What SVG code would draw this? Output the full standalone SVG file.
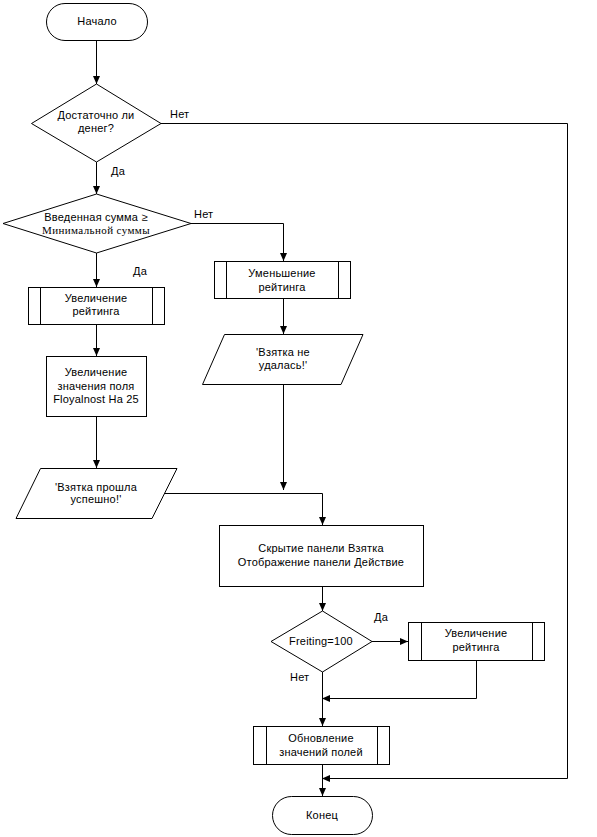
<svg xmlns="http://www.w3.org/2000/svg" width="597" height="837" viewBox="0 0 597 837">
<style>
.s{fill:#fff;stroke:#000;stroke-width:1}
.l{fill:none;stroke:#000;stroke-width:1}
text{font-family:"Liberation Sans",Arial,sans-serif;font-size:11px;fill:#000;text-anchor:middle;dominant-baseline:central;letter-spacing:0.2px}
.lb{text-anchor:start}
.sr{font-family:"Liberation Serif","Times New Roman",serif;letter-spacing:0.4px}
</style>
<defs>
<marker id="a" viewBox="0 0 8 8" refX="8" refY="4" markerWidth="8" markerHeight="8" markerUnits="userSpaceOnUse" orient="auto">
<path d="M0,0.5 L8,4 L0,7.5 Z" fill="#000"/>
</marker>
</defs>
<rect width="597" height="837" fill="#fff"/>
<g id="connectors">
<path class="l" d="M96.5,40 V84" marker-end="url(#a)"/>
<path class="l" d="M96.5,162 V194" marker-end="url(#a)"/>
<path class="l" d="M161,123.5 H567.5 V778.5 H322" marker-end="url(#a)"/>
<path class="l" d="M191,223.5 H283.5 V261" marker-end="url(#a)"/>
<path class="l" d="M96.5,253 V287" marker-end="url(#a)"/>
<path class="l" d="M96.5,324 V356" marker-end="url(#a)"/>
<path class="l" d="M96.5,416 V468" marker-end="url(#a)"/>
<path class="l" d="M283.5,299 V334" marker-end="url(#a)"/>
<path class="l" d="M283.5,384 V490" marker-end="url(#a)"/>
<path class="l" d="M165,493.5 H322.5 V525" marker-end="url(#a)"/>
<path class="l" d="M322.5,586 V611" marker-end="url(#a)"/>
<path class="l" d="M372,641.5 H408" marker-end="url(#a)"/>
<path class="l" d="M476.5,660 V698.5 H322" marker-end="url(#a)"/>
<path class="l" d="M322.5,671 V726" marker-end="url(#a)"/>
<path class="l" d="M322.5,765 V796" marker-end="url(#a)"/>
<text class="lb" x="170" y="114">Нет</text>
<text class="lb" x="111" y="171">Да</text>
<text class="lb" x="194" y="214">Нет</text>
<text class="lb" x="133" y="271">Да</text>
<text class="lb" x="374" y="617">Да</text>
<text class="lb" x="290" y="677">Нет</text>
</g>
<g id="start">
<rect class="s" x="46.5" y="3.5" width="101" height="37" rx="18.5"/>
<text x="97" y="21">Начало</text>
</g>
<g id="d1">
<path class="s" d="M96.5,84 L161,123.5 L96.5,162 L31.5,123.5 Z"/>
<text x="96" y="115">Достаточно ли</text>
<text x="96" y="128">денег?</text>
</g>
<g id="d2">
<path class="s" d="M96.5,194 L191,223.5 L96.5,253 L3,223.5 Z"/>
<text x="96" y="217">Введенная сумма ≥</text>
<text class="sr" x="96" y="230">Минимальной суммы</text>
</g>
<g id="p_dec">
<rect class="s" x="214.5" y="261.5" width="136" height="37"/>
<path class="l" d="M226.5,261.5 V298.5 M338.5,261.5 V298.5"/>
<text x="282" y="273">Уменьшение</text>
<text x="282" y="287">рейтинга</text>
</g>
<g id="io_fail">
<path class="s" d="M224.5,334.5 L363,334.5 L341,384.5 L202.5,384.5 Z"/>
<text x="283" y="352">'Взятка не</text>
<text x="283" y="365">удалась!'</text>
</g>
<g id="p_inc1">
<rect class="s" x="28.5" y="287.5" width="136" height="37"/>
<path class="l" d="M40.5,287.5 V324.5 M152.5,287.5 V324.5"/>
<text x="96" y="298">Увеличение</text>
<text x="96" y="311">рейтинга</text>
</g>
<g id="r_loyal">
<rect class="s" x="46.5" y="356.5" width="100" height="60"/>
<text x="96" y="372">Увеличение</text>
<text x="96" y="386">значения поля</text>
<text x="96" y="399">Floyalnost На 25</text>
</g>
<g id="io_ok">
<path class="s" d="M40.5,468.5 L177,468.5 L152,518.5 L16,518.5 Z"/>
<text x="96" y="487">'Взятка прошла</text>
<text x="96" y="499">успешно!'</text>
</g>
<g id="r_panel">
<rect class="s" x="219.5" y="525.5" width="204" height="61"/>
<text x="321" y="548">Скрытие панели Взятка</text>
<text x="321" y="562">Отображение панели Действие</text>
</g>
<g id="d3">
<path class="s" d="M322.5,611 L372,641.5 L322.5,672 L271,641.5 Z"/>
<text x="321" y="641">Freiting=100</text>
</g>
<g id="p_inc2">
<rect class="s" x="408.5" y="622.5" width="136" height="38"/>
<path class="l" d="M421.5,622.5 V660.5 M532.5,622.5 V660.5"/>
<text x="476" y="633">Увеличение</text>
<text x="476" y="647">рейтинга</text>
</g>
<g id="p_upd">
<rect class="s" x="253.5" y="726.5" width="136" height="38"/>
<path class="l" d="M266.5,726.5 V764.5 M377.5,726.5 V764.5"/>
<text x="321" y="738">Обновление</text>
<text x="321" y="752">значений полей</text>
</g>
<g id="end">
<rect class="s" x="272.5" y="796.5" width="100" height="38" rx="19"/>
<text x="322" y="815">Конец</text>
</g>
</svg>
